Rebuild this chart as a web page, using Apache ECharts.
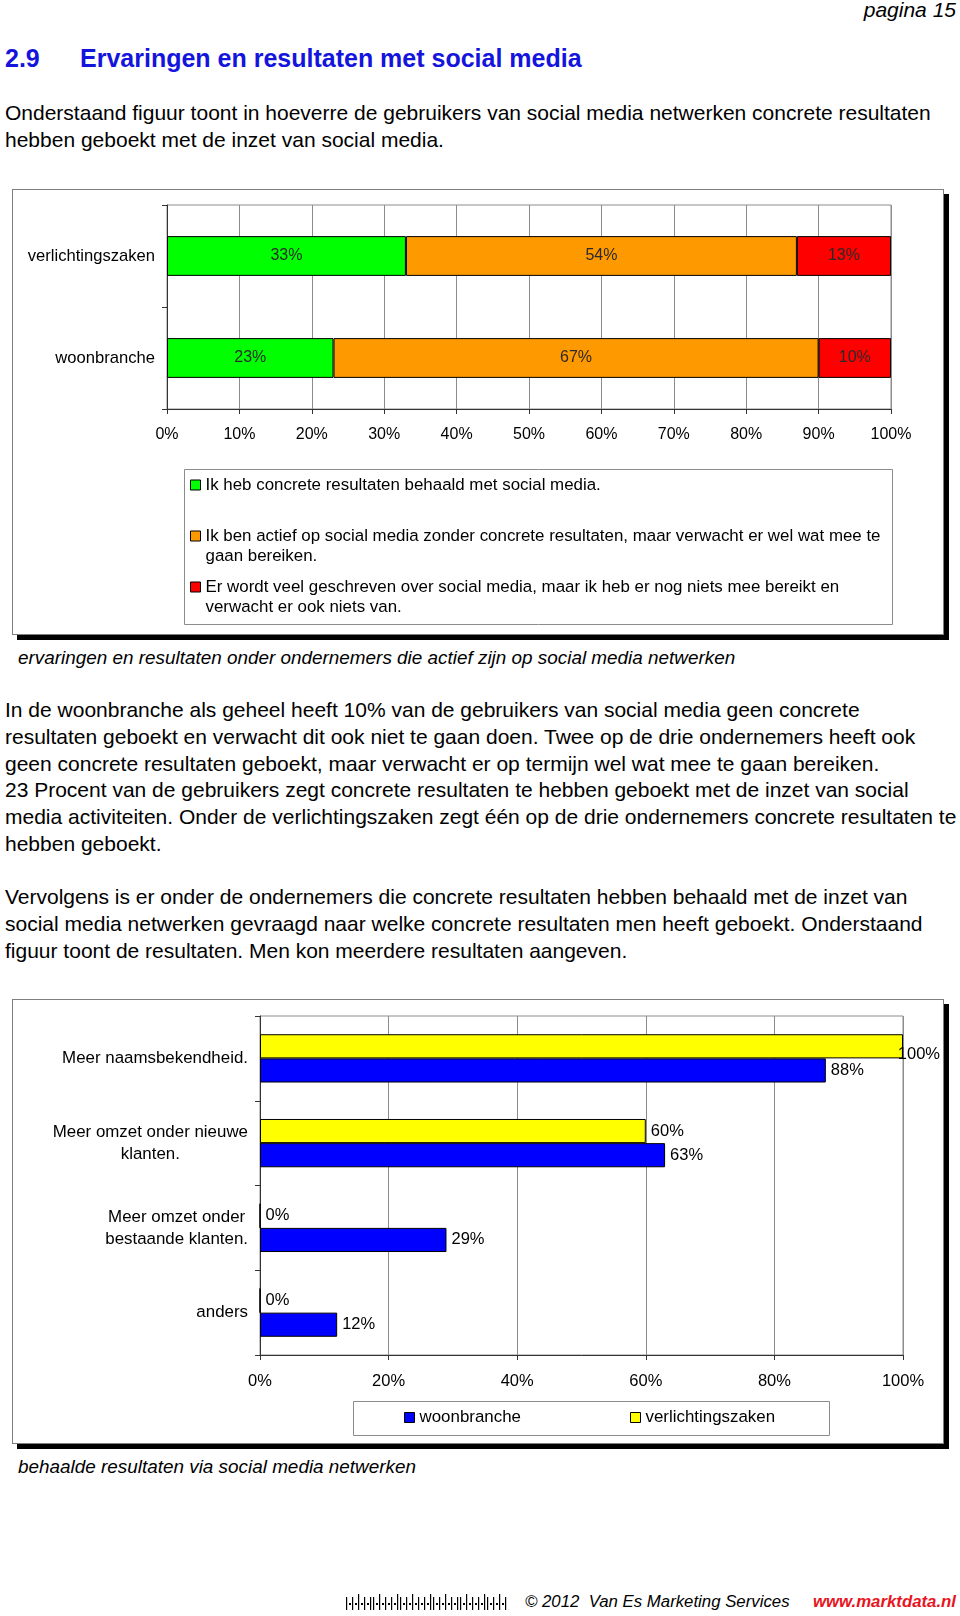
<!DOCTYPE html>
<html>
<head>
<meta charset="utf-8">
<script src="https://cdn.jsdelivr.net/npm/echarts@6/dist/echarts.min.js"></script>
<style>
  html,body{margin:0;padding:0;background:#fff;}
  body{width:960px;height:1616px;position:relative;overflow:hidden;font-family:"Liberation Sans",Arial,Helvetica,sans-serif;color:#000;}
  .abs{position:absolute;white-space:nowrap;}
  .para{font-size:21px;line-height:26.8px;left:5px;}
  .frame{position:absolute;left:12px;width:932px;border:1px solid #7f7f7f;box-shadow:5px 5px 0 #000;background:#fff;box-sizing:border-box;}
  .cap{font-style:italic;font-size:18.9px;line-height:22px;left:18px;}
</style>
</head>
<body>
<div class="abs" style="right:4px;top:-2px;font-size:21px;line-height:24px;font-style:italic;">pagina 15</div>
<div class="abs" style="left:5px;top:43px;font-size:25px;line-height:30px;font-weight:bold;color:#1414dc;">2.9</div>
<div class="abs" style="left:80px;top:43px;font-size:25px;line-height:30px;font-weight:bold;color:#1414dc;">Ervaringen en resultaten met social media</div>
<div class="abs para" style="top:100px;">Onderstaand figuur toont in hoeverre de gebruikers van social media netwerken concrete resultaten<br>hebben geboekt met de inzet van social media.</div>

<div class="frame" style="top:189px;height:446px;"><div id="c1" style="position:absolute;left:0;top:0;width:930px;height:444px;"></div></div>
<div class="abs cap" style="top:647px;">ervaringen en resultaten onder ondernemers die actief zijn op social media netwerken</div>

<div class="abs para" style="top:697px;">In de woonbranche als geheel heeft 10% van de gebruikers van social media geen concrete<br>resultaten geboekt en verwacht dit ook niet te gaan doen. Twee op de drie ondernemers heeft ook<br>geen concrete resultaten geboekt, maar verwacht er op termijn wel wat mee te gaan bereiken.<br>23 Procent van de gebruikers zegt concrete resultaten te hebben geboekt met de inzet van social<br>media activiteiten. Onder de verlichtingszaken zegt één op de drie ondernemers concrete resultaten te<br>hebben geboekt.</div>
<div class="abs para" style="top:884px;">Vervolgens is er onder de ondernemers die concrete resultaten hebben behaald met de inzet van<br>social media netwerken gevraagd naar welke concrete resultaten men heeft geboekt. Onderstaand<br>figuur toont de resultaten. Men kon meerdere resultaten aangeven.</div>

<div class="frame" style="top:999px;height:445px;"><div id="c2" style="position:absolute;left:0;top:0;width:930px;height:443px;"></div></div>
<div class="abs cap" style="top:1456px;">behaalde resultaten via social media netwerken</div>

<svg id="bc" class="abs" style="left:346px;top:1592px;" width="162" height="20"></svg>
<div class="abs" style="left:525px;top:1591px;font-size:16.8px;line-height:22px;font-style:italic;">© 2012&nbsp; Van Es Marketing Services</div>
<div class="abs" style="right:4px;top:1591px;font-size:16.8px;line-height:22px;font-style:italic;font-weight:bold;color:#e8141e;">www.marktdata.nl</div>

<script>
// ---------- data ----------
const categories1 = ['verlichtingszaken', 'woonbranche'];
const seriesNames1 = [
  'Ik heb concrete resultaten behaald met social media.',
  'Ik ben actief op social media zonder concrete resultaten, maar verwacht er wel wat mee te gaan bereiken.',
  'Er wordt veel geschreven over social media, maar ik heb er nog niets mee bereikt en verwacht er ook niets van.'
];
const legendLines1 = [
  ['Ik heb concrete resultaten behaald met social media.'],
  ['Ik ben actief op social media zonder concrete resultaten, maar verwacht er wel wat mee te', 'gaan bereiken.'],
  ['Er wordt veel geschreven over social media, maar ik heb er nog niets mee bereikt en', 'verwacht er ook niets van.']
];
const greenValues = [33, 23];
const orangeValues = [54, 67];
const redValues = [13, 10];
const colors1 = ['#00ff00', '#ff9900', '#ff0000'];

const categories2 = ['Meer naamsbekendheid.', 'Meer omzet onder nieuwe\nklanten.', 'Meer omzet onder\nbestaande klanten.', 'anders'];
const seriesNames2 = ['verlichtingszaken', 'woonbranche'];
const verlichtingValues = [100, 60, 0, 0];
const woonbrancheValues = [88, 63, 29, 12];
const colors2 = ['#ffff00', '#0000ff'];

const FONT = '"Liberation Sans", Arial, sans-serif';

// ---------- barcode decoration ----------
(function(){
  const svg = document.getElementById('bc');
  const pattern = [1,0,1,0,2,0,1,0,1,1,0,2,0,1,0,1,0,2,1,0,1,0,2,0,1,0,1,0,2,1,0,1,0,2,0,1,0,1,1,0,2,0,1,0,1,0,2,1,0,1,0,2,0,1];
  let x = 0, s = '';
  for (const p of pattern) {
    if (p === 0) { s += `<rect x="${x}" y="11" width="2" height="2" fill="#000"/>`; x += 3; }
    else { s += `<rect x="${x}" y="${p===2?2:5}" width="1.2" height="${p===2?16:13}" fill="#000"/>`; x += 3; }
  }
  svg.innerHTML = s;
})();

// ---------- chart 1 ----------
const c1 = echarts.init(document.getElementById('c1'), null, {renderer: 'canvas'});
const stackVals = [greenValues, orangeValues, redValues];
c1.setOption({
  animation: false,
  textStyle: {fontFamily: FONT},
  grid: {left: 154, top: 15, width: 724, height: 204, show: true, borderColor: '#8c8c8c', borderWidth: 1},
  xAxis: {
    type: 'value', min: 0, max: 100, interval: 10,
    axisLabel: {formatter: '{value}%', fontSize: 16, color: '#000', margin: 18, fontFamily: FONT},
    axisLine: {show: true, lineStyle: {color: '#333', width: 1}},
    axisTick: {show: true, length: 5, lineStyle: {color: '#333'}},
    splitLine: {show: true, lineStyle: {color: '#8c8c8c', width: 1}}
  },
  yAxis: {
    type: 'category', inverse: true, data: categories1,
    axisLabel: {fontSize: 16.6, color: '#000', margin: 12, fontFamily: FONT},
    axisLine: {show: true, lineStyle: {color: '#333'}},
    axisTick: {show: true, length: 5, lineStyle: {color: '#333'}}
  },
  legend: {
    orient: 'vertical', left: 177, top: 265, padding: 0, itemGap: -9,
    itemWidth: 10, itemHeight: 10, selectedMode: false, icon: 'rect',
    data: seriesNames1,
    itemStyle: {borderColor: '#000', borderWidth: 1},
    textStyle: {fontSize: 16.9, color: '#000', lineHeight: 20, fontFamily: FONT},
    formatter: function (name) {
      const lines = legendLines1[seriesNames1.indexOf(name)].slice();
      while (lines.length < 2) lines.push('');
      return '\n' + lines.join('\n');
    }
  },
  graphic: [{type: 'rect', left: 169, top: 277, shape: {width: 708, height: 155}, style: {fill: 'none', stroke: '#8c8c8c', lineWidth: 1}, z: -1}],
  series: seriesNames1.map((n, i) => ({
    name: n, type: 'bar', stack: 'total', data: stackVals[i],
    barCategoryGap: '61%',
    itemStyle: {color: colors1[i], borderColor: '#000', borderWidth: 1},
    label: {show: true, position: 'inside', formatter: '{c}%', fontSize: 16, color: '#2a2a2a', fontFamily: FONT}
  }))
});

// ---------- chart 2 ----------
const c2 = echarts.init(document.getElementById('c2'), null, {renderer: 'canvas'});
const vals2 = [verlichtingValues, woonbrancheValues];
c2.setOption({
  animation: false,
  textStyle: {fontFamily: FONT},
  grid: {left: 247, top: 16, width: 643, height: 339, show: true, borderColor: '#8c8c8c', borderWidth: 1},
  xAxis: {
    type: 'value', min: 0, max: 100, interval: 20,
    axisLabel: {formatter: '{value}%', fontSize: 16.5, color: '#000', margin: 18, fontFamily: FONT},
    axisLine: {show: true, lineStyle: {color: '#333'}},
    axisTick: {show: true, length: 5, lineStyle: {color: '#333'}},
    splitLine: {show: true, lineStyle: {color: '#8c8c8c'}}
  },
  yAxis: {
    type: 'category', inverse: true, data: categories2,
    axisLabel: {
      margin: 12, fontFamily: FONT,
      formatter: function (v) { return v.split('\n').map(s => '{c|' + s + '}').join('\n'); },
      rich: {c: {fontSize: 16.9, color: '#000', lineHeight: 22, align: 'center', fontFamily: FONT}}
    },
    axisLine: {show: true, lineStyle: {color: '#333'}},
    axisTick: {show: true, length: 5, lineStyle: {color: '#333'}}
  },
  legend: [
    {left: 391, top: 409, padding: 0, itemWidth: 10, itemHeight: 10, icon: 'rect', selectedMode: false,
     data: ['woonbranche'], itemStyle: {borderColor: '#000', borderWidth: 1},
     textStyle: {fontSize: 16.9, color: '#000', fontFamily: FONT}},
    {left: 617, top: 409, padding: 0, itemWidth: 10, itemHeight: 10, icon: 'rect', selectedMode: false,
     data: ['verlichtingszaken'], itemStyle: {borderColor: '#000', borderWidth: 1},
     textStyle: {fontSize: 16.9, color: '#000', fontFamily: FONT}}
  ],
  graphic: [{type: 'rect', left: 338, top: 399, shape: {width: 476, height: 34}, style: {fill: 'none', stroke: '#8c8c8c', lineWidth: 1}, z: -1}],
  series: seriesNames2.map((n, i) => ({
    name: n, type: 'bar', data: vals2[i],
    barGap: '0%', barCategoryGap: '43%',
    itemStyle: {color: colors2[i], borderColor: '#000', borderWidth: 1},
    label: {show: true, position: 'right', distance: 5, formatter: '{c}%', fontSize: 16.5, color: '#000', fontFamily: FONT}
  })),
  labelLayout: function (params) {
    const r = params.labelRect;
    const W = c2.getWidth();
    if (r.x + r.width > W - 3) return {x: W - 3 - r.width};
  }
});
</script>
</body>
</html>
